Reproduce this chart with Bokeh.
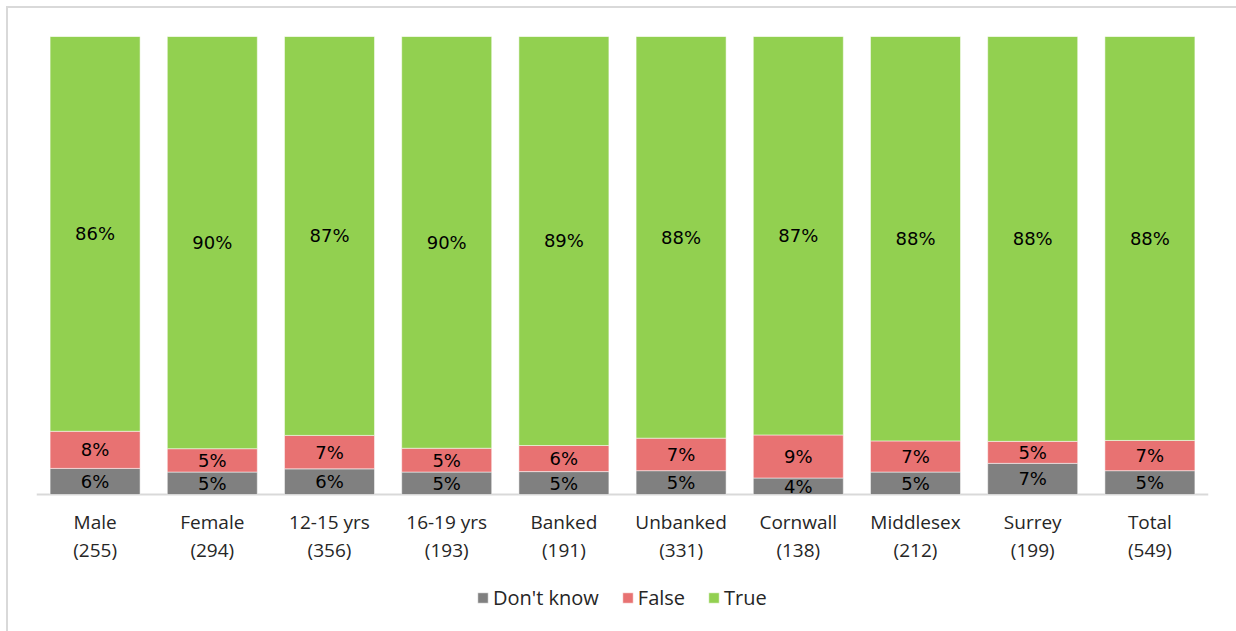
from bokeh.plotting import figure
from bokeh.models import ColumnDataSource, Legend, LegendItem, Span
from bokeh.core.properties import value
from bokeh.embed import file_html
from bokeh.resources import INLINE

group_names = ["Male", "Female", "12-15 yrs", "16-19 yrs", "Banked", "Unbanked",
               "Cornwall", "Middlesex", "Surrey", "Total"]
base_sizes = [255, 294, 356, 193, 191, 331, 138, 212, 199, 549]
dont_know = [5.7, 4.9, 5.6, 4.9, 5.0, 5.2, 3.6, 4.9, 6.8, 5.2]
false_vals = [8.1, 5.1, 7.3, 5.2, 5.7, 7.1, 9.4, 6.8, 4.8, 6.6]
true_vals = [86.2, 90.0, 87.1, 89.9, 89.3, 87.7, 87.0, 88.3, 88.4, 88.2]

series_names = ["Don't know", "False", "True"]
colors = ["#808080", "#E87272", "#92D050"]

categories = [f"{g} ({n})" for g, n in zip(group_names, base_sizes)]

# pixel geometry: 100% spans 458px; 137px of frame lies below the baseline
px_per_unit = 458 / 100
y_start = -137 / px_per_unit

p = figure(x_range=categories, y_range=(y_start, 100), frame_width=1172, frame_height=595,
           output_backend="svg", toolbar_location=None, y_axis_location=None,
           x_axis_location=None,
           min_border_left=28, min_border_right=28, min_border_top=28,
           min_border_bottom=0)
p.styles = {"margin-left": "6px", "margin-top": "6px",
            "border-top": "2px solid #d9d9d9", "border-left": "2px solid #d9d9d9"}
p.outline_line_color = None
p.xgrid.visible = False
p.ygrid.visible = False

renderers = []
bottom = [0.0] * len(categories)
for name, vals, col in zip(series_names, [dont_know, false_vals, true_vals], colors):
    top = [b + v for b, v in zip(bottom, vals)]
    mid = [(b + t) / 2 for b, t in zip(bottom, top)]
    labels = [f"{round(v)}%" for v in vals]
    src = ColumnDataSource(dict(x=categories, bottom=bottom, top=top, mid=mid, label=labels))
    r = p.vbar(x="x", bottom="bottom", top="top", width=0.768, source=src,
               fill_color=col, line_color="white", line_alpha=0.5, line_width=1)
    p.text(x="x", y="mid", text="label", source=src, text_align="center",
           text_baseline="middle", text_font=value("DejaVu Sans"),
           text_font_size="18px", text_color="#000000")
    renderers.append((name, r))
    bottom = top

# baseline (category axis line)
p.add_layout(Span(location=0, dimension="width", line_color="#d9d9d9", line_width=2,
                  level="underlay"))

# category labels, two lines
lab_src = ColumnDataSource(dict(
    x=categories,
    name=group_names,
    count=[f"({n})" for n in base_sizes],
    y1=[-27 / px_per_unit] * len(categories),
    y2=[-55 / px_per_unit] * len(categories),
))
for col_name, ycol in (("name", "y1"), ("count", "y2")):
    p.text(x="x", y=ycol, text=col_name, source=lab_src, text_align="center",
           text_baseline="middle", text_font=value("Open Sans"),
           text_font_size="19px", text_color="#262626")

legend = Legend(items=[LegendItem(label=n, renderers=[r]) for n, r in renderers],
                orientation="horizontal", location=(440, 20),
                glyph_width=13, glyph_height=13, label_standoff=4, spacing=22,
                label_text_font="Open Sans", label_text_font_size="20px",
                label_text_color="#262626", border_line_color=None,
                background_fill_alpha=0, margin=0, padding=4)
p.add_layout(legend, "center")

open("out.html", "w").write(file_html(p, INLINE))
